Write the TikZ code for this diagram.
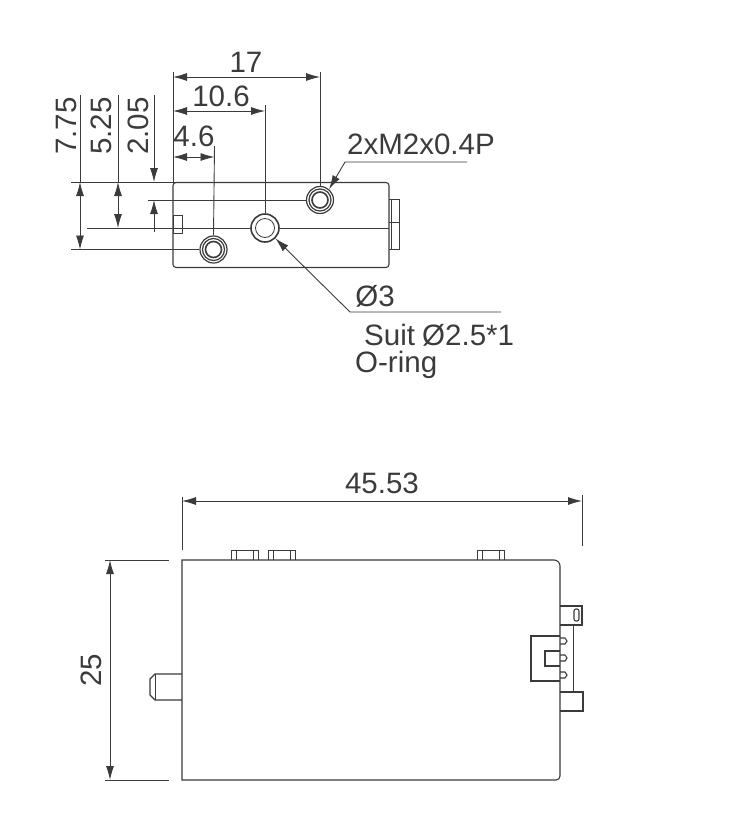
\documentclass[tikz,border=0pt]{standalone}
\usepackage{fontspec}
\setmainfont{Liberation Sans}
\usetikzlibrary{arrows.meta}
\definecolor{inkgray}{HTML}{3C3A3A}
\tikzset
    { part/.style={draw=inkgray,line width=1.1pt}
    , thin part/.style={draw=inkgray,line width=0.8pt}
    , thick part/.style={draw=inkgray,line width=1.6pt}
    , extline/.style={draw=inkgray,line width=0.9pt}
    , dimline/.style={draw=inkgray,line width=0.9pt,{Latex[length=14pt,width=8pt]}-{Latex[length=14pt,width=8pt]}}
    , leader/.style={draw=inkgray,line width=0.9pt,-{Latex[length=14pt,width=8pt]}}
    , label/.style={text=inkgray,inner sep=0pt,font=\fontsize{29.5}{29.5}\selectfont}
    , holeA/.style={circle,draw=inkgray,line width=1.2pt,minimum size=27pt,inner sep=0pt,fill=white}
    , holeB/.style={circle,draw=inkgray,line width=1.6pt,minimum size=28pt,inner sep=0pt,fill=white}
    , ring/.style={circle,draw=inkgray,inner sep=0pt}
    }
\begin{document}
\begin{tikzpicture}[x=1pt,y=-1pt]
\useasboundingbox (0,0) rectangle (750,836);
% end view
\coordinate (tl) at (173,182.5);
\coordinate (br) at (389,267.5);
\draw[part,rounded corners=3pt] (tl) rectangle (br);
\draw[thin part] (173,215) rectangle (182,233.5);
\draw[thin part] (389,199) -- (399,199) -- (399,249) -- (389,249);
\draw[thin part] (391,199) -- (391,249);
\draw[thin part] (389,222) -- (399,222);
\node[holeA] (holeL) at (213.5,249.5) {};
\node[holeA] (holeR) at (320,200) {};
\node[holeB] (holeC) at (265,228) {};
\foreach \holename in {holeL,holeR}
    {
    \node[ring,line width=1.2pt,minimum size=22pt] at (\holename) {};
    \node[ring,line width=1.6pt,minimum size=16pt] at (\holename) {};
    }
\node[ring,line width=0.8pt,minimum size=19pt] at (holeC) {};
%extension lines
\coordinate (e17) at (320,72);
\coordinate (e106) at (265,105);
\coordinate (e46) at (214.5,146);
\draw[extline] (173,72) -- (tl);
\draw[extline] (e17) -- (holeR.north);
\draw[extline] (e106) -- (holeC.north);
\draw[extline] (e46) -- (holeL.north);
\draw[extline] (71,182) -- (185,182);
\draw[extline] (71,249.5) -- (holeL.west);
\draw[extline] (87,228) -- (holeC.west);
\draw[extline] (148,200) -- (holeR.west);
\draw[extline] (holeC.east) -- (389,228);
%dimensions
\draw[dimline] (173,77) -- (320,77);
\draw[dimline] (173,111) -- (265,111);
\draw[dimline] (173,157) -- (214.5,157);
\draw[dimline] (80,182) -- (80,249.5);
\draw[dimline] (118,182) -- (118,228);
\draw[extline] (80,95) -- (80,182);
\draw[extline] (118,95) -- (118,182);
\draw[leader] (154,95) -- (154,182);
\draw[leader] (154,232) -- (154,200);
\node[label] (d17) at (246,62) {17};
\node[label] (d106) at (221,96) {10.6};
\node[label] (d46) at (194,136) {4.6};
\node[label,rotate=90] (d775) at (66,126) {7.75};
\node[label,rotate=90] (d525) at (101,126) {5.25};
\node[label,rotate=90] (d205) at (138,126) {2.05};
%leaders
\coordinate (thrA) at (467,162);
\coordinate (thrB) at (345,162);
\coordinate (ringA) at (501,312);
\coordinate (ringB) at (350,312);
\draw[leader] (thrA) -- (thrB) -- (holeR.50);
\draw[leader] (ringA) -- (ringB) -- (holeC.-45);
\node[label,anchor=west] (thread) at (347,144) {2xM2x0.4P};
\node[label] (ring) at (375,296) {Ø3};
\node[label,anchor=west] (suit) at (364,335) {Suit\hspace{-1pt} Ø2.5*1};
\node[label,anchor=west] (oring) at (355,365) {O-ring};
% side view
\draw[part] (182,780) -- (182,560) -- (554,560) to[out=0,in=90] (560,566) -- (560,776) to[out=90+180,in=0] (556,780) -- cycle;
\foreach \tabx in {231,268,477}
    {
    \draw[thin part] (\tabx,560) -- (\tabx,550) -- (\tabx+27,550) -- (\tabx+27,560);
    \draw[thin part] (\tabx+5,550) -- (\tabx+5,560);
    \draw[thin part] (\tabx+22,550) -- (\tabx+22,560);
    }
\draw[part] (182,674) -- (155,674) -- (150,679) -- (150,695) -- (155,700) -- (182,700);
\draw[thin part] (155,674) -- (155,700);
%connector
\draw[part] (560,606) -- (582,606) -- (582,625) -- (560,625);
\draw[part] (560,692) -- (583,692) -- (583,711) -- (560,711);
\draw[thin part] (573,625) -- (573,692);
\draw[part,rounded corners=2pt] (574,609) rectangle (579,621);
\draw[thick part] (560,636) -- (531,636) -- (531,681) -- (560,681);
\draw[part] (560,651) -- (545,651) -- (545,666) -- (560,666);
\foreach \piny in {641,658,675}
    \draw[part] (560,\piny-3) -- (565,\piny-3) -- (567,\piny) -- (565,\piny+3) -- (560,\piny+3);
%dimensions
\coordinate (wl) at (182,497);
\coordinate (wr) at (582,495);
\draw[extline] (wl) -- (182,550);
\draw[extline] (wr) -- (582,546);
\draw[dimline] (182,501) -- (582,501);
\draw[extline] (105,560) -- (169,560);
\draw[extline] (105,780) -- (169,780);
\draw[dimline] (110,560) -- (110,780);
\node[label] (d4553) at (382,483) {45.53};
\node[label,rotate=90] (d25) at (91,670) {25};
\end{tikzpicture}
\end{document}
